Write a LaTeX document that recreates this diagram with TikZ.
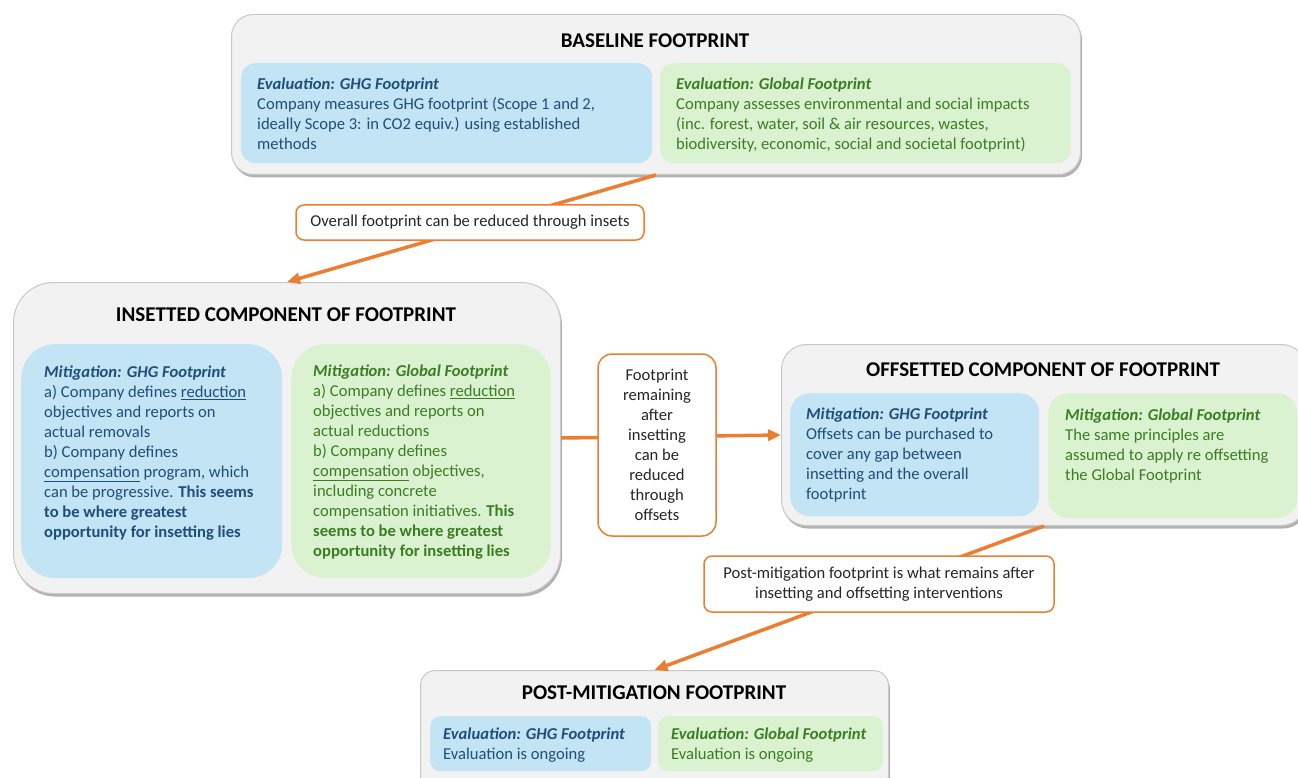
\documentclass[tikz,border=0pt]{standalone}
\usepackage{fontspec}
\setmainfont{Carlito}
\usetikzlibrary{positioning,shadows,arrows.meta}

\definecolor{stagefill}{HTML}{F2F2F2}
\definecolor{stageline}{HTML}{C8C8C8}
\definecolor{ghgfill}{HTML}{C2E4F5}
\definecolor{globfill}{HTML}{DAF2D0}
\definecolor{ghgink}{HTML}{1F4E79}
\definecolor{globink}{HTML}{3B7D23}
\definecolor{flowline}{HTML}{ED7D31}

\newcommand{\hd}[1]{\textbf{\textit{#1}}}

\tikzset{
  stage/.style={draw=stageline, fill=stagefill, line width=1pt, anchor=north west, inner sep=0pt,
    drop shadow={shadow xshift=1.5pt, shadow yshift=-3pt, fill=black, opacity=0.3}},
  stagetitle/.style={font=\fontsize{21}{24}\selectfont\bfseries, inner sep=0pt},
  panel/.style={anchor=north west, inner sep=0pt},
  ghgpanel/.style={panel, fill=ghgfill},
  globpanel/.style={panel, fill=globfill},
  paneltext/.style={align=left, inner sep=0pt, font=\fontsize{16.6}{20}\selectfont},
  ghgtext/.style={paneltext, text=ghgink},
  globtext/.style={paneltext, text=globink},
  note/.style={draw=flowline, fill=white, line width=1.5pt, rounded corners=8pt, align=center,
    inner sep=0pt, text=black!85, font=\fontsize{16.6}{20}\selectfont},
  flow/.style={draw=flowline, line width=3.5pt, -{Triangle[length=13pt,width=11pt]}},
}

\begin{document}
\begin{tikzpicture}[x=1pt, y=-1pt]
\useasboundingbox (0,0) rectangle (1298,778);
\clip (0,0) rectangle (1298,778);

% baseline footprint
\node[stage, rounded corners=22pt, minimum width=849pt, minimum height=160pt] (base) at (231,14) {};
\node[stagetitle] (basetitle) at (655,41) {BASELINE FOOTPRINT};
\node[ghgpanel, rounded corners=14pt, minimum width=411pt, minimum height=100pt] (baseghg) at (241,63) {};
\node[globpanel, rounded corners=14pt, minimum width=411pt, minimum height=100pt] (baseglob) at (660,63) {};
\node[ghgtext, below right=14.5pt and 16pt of baseghg.north west] (baseghgtext)
  {\hd{Evaluation: GHG Footprint}\\
   Company measures GHG footprint (Scope 1 and 2,\\
   ideally Scope 3: in CO2 equiv.) using established\\
   methods};
\node[globtext, below right=14.5pt and 16pt of baseglob.north west] (baseglobtext)
  {\hd{Evaluation: Global Footprint}\\
   Company assesses environmental and social impacts\\
   (inc. forest, water, soil \& air resources, wastes,\\
   biodiversity, economic, social and societal footprint)};

% insetted component
\node[stage, rounded corners=40pt, minimum width=547pt, minimum height=311pt] (ins) at (13,282) {};
\node[stagetitle] (institle) at (286,315) {INSETTED COMPONENT OF FOOTPRINT};
\node[ghgpanel, rounded corners=34pt, minimum width=261pt, minimum height=234pt] (insghg) at (21,344) {};
\node[globpanel, rounded corners=34pt, minimum width=260pt, minimum height=234pt] (insglob) at (291,344) {};
\node[ghgtext, below right=21.5pt and 23pt of insghg.north west] (insghgtext)
  {\hd{Mitigation: GHG Footprint}\\
   a) Company defines \underline{reduction}\\
   objectives and reports on\\
   actual removals\\
   b) Company defines\\
   \underline{compensation} program, which\\
   can be progressive. \textbf{This seems}\\
   \textbf{to be where greatest}\\
   \textbf{opportunity for insetting lies}};
\node[globtext, below right=20.5pt and 22pt of insglob.north west] (insglobtext)
  {\hd{Mitigation: Global Footprint}\\
   a) Company defines \underline{reduction}\\
   objectives and reports on\\
   actual reductions\\
   b) Company defines\\
   \underline{compensation} objectives,\\
   including concrete\\
   compensation initiatives. \textbf{This}\\
   \textbf{seems to be where greatest}\\
   \textbf{opportunity for insetting lies}};

% offsetted component
\node[stage, rounded corners=25pt, minimum width=525pt, minimum height=181pt] (off) at (781,344) {};
\node[stagetitle] (offtitle) at (1043,370) {OFFSETTED COMPONENT OF FOOTPRINT};
\node[ghgpanel, rounded corners=20pt, minimum width=249pt, minimum height=123pt] (offghg) at (790,393) {};
\node[globpanel, rounded corners=20pt, minimum width=249pt, minimum height=125pt] (offglob) at (1048,393) {};
\node[ghgtext, below right=14.5pt and 16pt of offghg.north west] (offghgtext)
  {\hd{Mitigation: GHG Footprint}\\
   Offsets can be purchased to\\
   cover any gap between\\
   insetting and the overall\\
   footprint};
\node[globtext, below right=15.5pt and 17pt of offglob.north west] (offglobtext)
  {\hd{Mitigation: Global Footprint}\\
   The same principles are\\
   assumed to apply re offsetting\\
   the Global Footprint};

% post-mitigation footprint
\node[stage, rounded corners=15pt, minimum width=468pt, minimum height=120pt] (post) at (420,670) {};
\node[stagetitle] (posttitle) at (654,693) {POST-MITIGATION FOOTPRINT};
\node[ghgpanel, rounded corners=10pt, minimum width=221pt, minimum height=55pt] (postghg) at (430,716) {};
\node[globpanel, rounded corners=10pt, minimum width=225pt, minimum height=55pt] (postglob) at (658,716) {};
\node[ghgtext, below right=11.5pt and 13pt of postghg.north west] (postghgtext)
  {\hd{Evaluation: GHG Footprint}\\
   Evaluation is ongoing};
\node[globtext, below right=11.5pt and 13pt of postglob.north west] (postglobtext)
  {\hd{Evaluation: Global Footprint}\\
   Evaluation is ongoing};

% flows between stages
\draw[flow] (base.south) -- (ins.north);
\draw[flow] (ins.east) -- (off.west);
\draw[flow] (off.south) -- (post.north);

% notes on the flows
\node[note, minimum width=348pt, minimum height=35pt] (insetnote) at (470,222.5)
  {Overall footprint can be reduced through insets};
\node[note, rounded corners=14pt, minimum width=118pt, minimum height=182pt] (offsetnote) at (657,445)
  {Footprint\\remaining\\after\\insetting\\can be\\reduced\\through\\offsets};
\node[note, minimum width=350pt, minimum height=56pt] (postnote) at (879,584)
  {Post-mitigation footprint is what remains after\\insetting and offsetting interventions};
\end{tikzpicture}
\end{document}
